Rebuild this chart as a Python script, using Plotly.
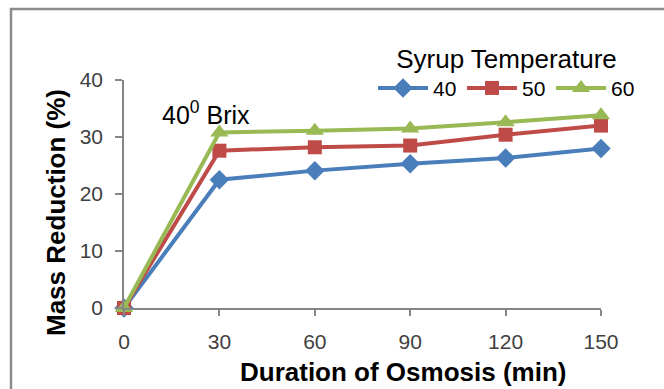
import plotly.graph_objects as go

# ---- data ----
durations = [0, 30, 60, 90, 120, 150]
temp_40 = [0, 22.5, 24.1, 25.3, 26.3, 28.0]
temp_50 = [0, 27.6, 28.2, 28.5, 30.4, 32.0]
temp_60 = [0, 30.8, 31.1, 31.5, 32.6, 33.8]
series_names = ["40", "50", "60"]
x_ticks = [0, 30, 60, 90, 120, 150]
y_ticks = [0, 10, 20, 30, 40]

# ---- layout geometry (px) ----
W, H = 664, 389
L, R, T, B = 124, 63, 80, 81
pw = W - L - R
ph = H - T - B


def px_x(p):
    return (p - L) / pw


def px_y(p):
    return (H - B - p) / ph


FONT = "Liberation Sans, Arial, sans-serif"
colors = ["#4A7EBB", "#BE4B48", "#98B954"]
symbols = ["diamond", "square", "triangle-up"]
sizes = [15, 14, 16]

fig = go.Figure()
for name, vals, c, s, sz in zip(series_names, [temp_40, temp_50, temp_60], colors, symbols, sizes):
    fig.add_trace(go.Scatter(
        x=durations, y=vals, name=name, mode="lines+markers",
        line=dict(color=c, width=4),
        marker=dict(symbol=s, size=sz, color=c),
        cliponaxis=False,
    ))

fig.update_layout(
    width=W, height=H,
    margin=dict(l=L, r=R, t=T, b=B, autoexpand=False),
    paper_bgcolor="white", plot_bgcolor="white",
    font=dict(family=FONT, color="#000000"),
    showlegend=True,
    legend=dict(
        orientation="h",
        x=px_x(373), y=px_y(34), xanchor="left", yanchor="top",
        font=dict(size=21, family=FONT, color="#000000"),
        title=dict(text="Syrup Temperature", side="top center",
                   font=dict(size=26, family=FONT, color="#000000")),
        bgcolor="rgba(0,0,0,0)",
        itemwidth=50,
        entrywidth=24,
        entrywidthmode="pixels",
        tracegroupgap=0,
    ),
    xaxis=dict(
        range=[0, 150], tickvals=x_ticks, ticktext=[str(v) for v in x_ticks],
        showline=True, linecolor="#868686", linewidth=1.5,
        ticks="outside", ticklen=6, tickcolor="#868686", tickwidth=1.5,
        showgrid=False, zeroline=False,
        tickfont=dict(size=21, family=FONT, color="#404040"),
        ticklabelstandoff=8,
    ),
    yaxis=dict(
        range=[0, 40], tickvals=y_ticks,
        showline=True, linecolor="#868686", linewidth=1.5,
        ticks="outside", ticklen=7, tickcolor="#868686", tickwidth=1.5,
        showgrid=False, zeroline=False,
        tickfont=dict(size=21, family=FONT, color="#404040"),
        ticklabelstandoff=8,
    ),
    shapes=[
        dict(type="rect", xref="paper", yref="paper",
             x0=px_x(11), x1=px_x(720), y0=px_y(420), y1=px_y(9),
             line=dict(color="#8C8C8C", width=2.5), fillcolor="rgba(0,0,0,0)",
             layer="below"),
    ],
    annotations=[
        dict(text="Mass Reduction (%)", xref="paper", yref="paper",
             x=px_x(56), y=px_y(213), textangle=-90, showarrow=False,
             xanchor="center", yanchor="middle",
             font=dict(size=26, family=FONT, color="#000000", weight="bold")),
        dict(text="Duration of Osmosis (min)", xref="paper", yref="paper",
             x=px_x(403), y=px_y(372), showarrow=False,
             xanchor="center", yanchor="middle",
             font=dict(size=26, family=FONT, color="#000000", weight="bold")),
        dict(text="40<sup>0</sup> Brix", xref="paper", yref="paper",
             x=px_x(160), y=px_y(113), showarrow=False,
             xanchor="left", yanchor="middle",
             font=dict(size=25, family=FONT, color="#000000")),
    ],
)

fig.write_html("out.html")
